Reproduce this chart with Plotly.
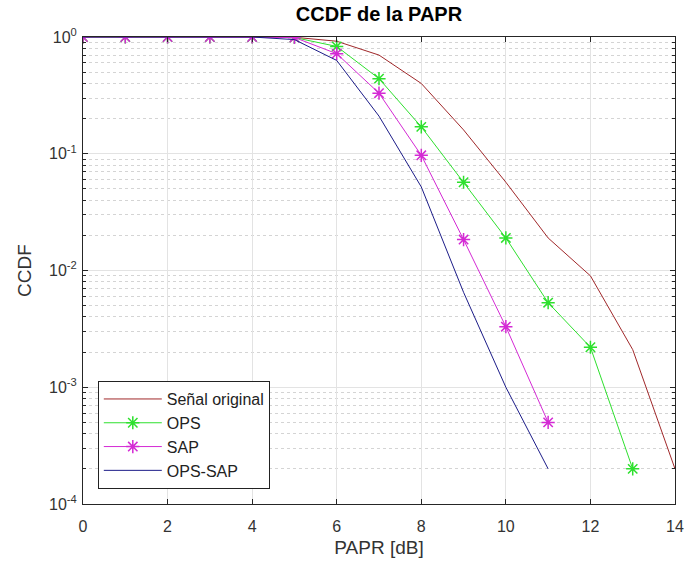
import plotly.graph_objects as go

x_orig = list(range(0, 15))
ccdf_orig = [1, 1, 1, 1, 1, 0.995, 0.92, 0.70, 0.40, 0.16, 0.057, 0.019, 0.0090, 0.0021, 0.0002]
x_ops = list(range(0, 14))
ccdf_ops = [1, 1, 1, 1, 1, 0.99, 0.83, 0.44, 0.17, 0.057, 0.019, 0.0053, 0.0022, 0.0002]
x_sap = list(range(0, 12))
ccdf_sap = [1, 1, 1, 1, 1, 0.99, 0.72, 0.33, 0.097, 0.0184, 0.0033, 0.0005]
x_opssap = list(range(0, 12))
ccdf_opssap = [1, 1, 1, 1, 1, 0.95, 0.63, 0.21, 0.052, 0.0065, 0.001, 0.0002]

x_ticks = [0, 2, 4, 6, 8, 10, 12, 14]
y_tickvals = [1e-4, 1e-3, 1e-2, 1e-1, 1]
y_ticktext = ["10<sup>-4</sup>", "10<sup>-3</sup>", "10<sup>-2</sup>", "10<sup>-1</sup>", "10<sup>0</sup>"]

c_red = "#a0282a"
c_green = "#2ee02e"
c_mag = "#d42ad4"
c_blue = "#1c1c88"

fig = go.Figure()
fig.add_trace(go.Scatter(x=x_orig, y=ccdf_orig, mode="lines", name="Señal original",
                         line=dict(color=c_red, width=1)))
fig.add_trace(go.Scatter(x=x_ops, y=ccdf_ops, mode="lines+markers", name="OPS",
                         line=dict(color=c_green, width=1),
                         marker=dict(symbol="asterisk-open", size=11, color=c_green,
                                     line=dict(color=c_green, width=1.5))))
fig.add_trace(go.Scatter(x=x_sap, y=ccdf_sap, mode="lines+markers", name="SAP",
                         line=dict(color=c_mag, width=1),
                         marker=dict(symbol="asterisk-open", size=11, color=c_mag,
                                     line=dict(color=c_mag, width=1.5))))
fig.add_trace(go.Scatter(x=x_opssap, y=ccdf_opssap, mode="lines", name="OPS-SAP",
                         line=dict(color=c_blue, width=1)))

font_family = "Liberation Sans, Arial, sans-serif"
fig.update_layout(
    width=684, height=564,
    margin=dict(l=83, r=9, t=37, b=60),
    paper_bgcolor="white", plot_bgcolor="white",
    font=dict(family=font_family, size=16, color="#333333"),
    title=dict(text="<b>CCDF de la PAPR</b>", x=(83 + 675) / 2 / 684, xanchor="center",
               y=1 - 14 / 564, yanchor="middle", yref="container",
               font=dict(size=20, color="black", family=font_family)),
    showlegend=True,
    legend=dict(x=0.025, y=0.032, xanchor="left", yanchor="bottom",
                bgcolor="white", bordercolor="#222222", borderwidth=1,
                font=dict(size=16, color="#222222"), itemwidth=58,
                tracegroupgap=0),
)
fig.update_xaxes(
    range=[0, 14], tickvals=x_ticks, ticks="inside", ticklen=5, tickcolor="#262626",
    showline=True, linecolor="#262626", linewidth=1, mirror="ticks",
    showgrid=True, gridcolor="#e3e3e3", gridwidth=1, zeroline=False,
    ticklabeloverflow="allow", automargin=False, ticklabelstandoff=8,
    title=dict(text="PAPR [dB]", font=dict(size=19, color="#333333"), standoff=6),
    tickfont=dict(size=16, color="#333333"),
)
fig.update_yaxes(
    type="log", range=[-4, 0], tickvals=y_tickvals, ticktext=y_ticktext,
    ticks="inside", ticklen=5, tickcolor="#262626",
    showline=True, linecolor="#262626", linewidth=1, mirror="ticks",
    showgrid=True, gridcolor="#e3e3e3", gridwidth=1, zeroline=False,
    ticklabeloverflow="allow", automargin=False, ticklabelstandoff=2,
    minor=dict(dtick="D1", ticks="inside", ticklen=3, tickcolor="#262626",
               showgrid=True, gridcolor="#d4d4d4", griddash="dot", gridwidth=1),
    title=dict(text="CCDF", font=dict(size=19, color="#333333"), standoff=12),
    tickfont=dict(size=16, color="#333333"),
)

fig.write_html("out.html")
